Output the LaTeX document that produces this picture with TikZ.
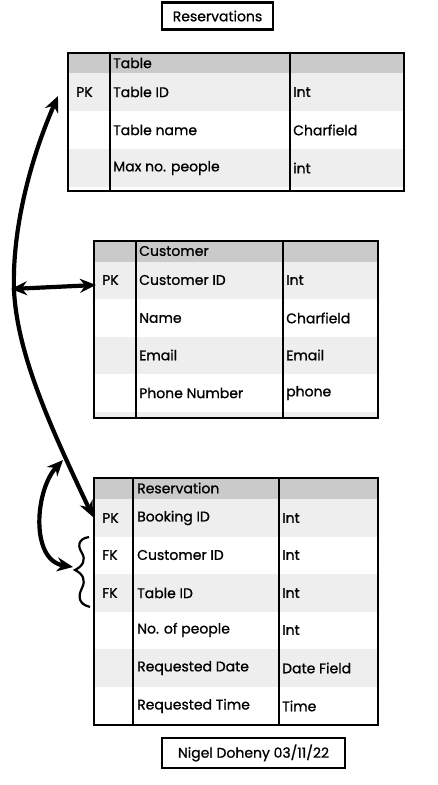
\documentclass[tikz,border=0pt]{standalone}
\usepackage{fontspec}
\setmainfont{Poppins}[FakeBold=0.9]
\usetikzlibrary{arrows.meta}
\definecolor{hdrgray}{HTML}{CACACA}
\definecolor{rowgray}{HTML}{EEEEEE}
\begin{document}
\begin{tikzpicture}[x=1pt,y=-1pt,
  font=\fontsize{14}{16}\selectfont,
  tbl/.style={draw=black,line width=2.8pt},
  hdr/.style={fill=hdrgray},
  rowg/.style={fill=rowgray},
  cell/.style={anchor=west,inner sep=0pt,text=black},
  lbox/.style={draw=black,line width=2.5pt,minimum width=#1,minimum height=27pt,inner sep=2pt},
  rel/.style={line width=4.2pt,{Stealth[length=16pt,width=14pt]}-{Stealth[length=16pt,width=14pt]}},
  brc/.style={line width=2.2pt}]
\useasboundingbox (0,0) rectangle (437,785);
\fill[white] (0,0) rectangle (437,785);

% Title
\node[lbox=111pt] (title) at (217.5,16) {Reservations};

% ---------- Table 1 ----------
\fill[hdr] (68,53) rectangle (404,73);
\fill[rowg] (68,73) rectangle (404,111);
\fill[rowg] (68,149) rectangle (404,187);
\draw[tbl] (68,53) rectangle (404,191);
\draw[tbl] (110,53) -- (110,191);
\draw[tbl] (290,53) -- (290,191);
\node[cell] (t1h) at (113,63) {Table};
\node[cell] (t1k1) at (76,92) {PK};
\node[cell] (t1n1) at (113,92) {Table ID};
\node[cell] (t1t1) at (293,92) {Int};
\node[cell] (t1n2) at (113,130) {Table name};
\node[cell] (t1t2) at (293,130) {Charfield};
\node[cell] (t1n3) at (113,168) {Max no. people};
\node[cell] (t1t3) at (293,168) {int};

% ---------- Table 2 ----------
\fill[hdr] (94,241) rectangle (378,262);
\fill[rowg] (94,262) rectangle (378,299);
\fill[rowg] (94,337) rectangle (378,374);
\fill[rowg] (94,412) rectangle (378,418);
\draw[tbl] (94,241) rectangle (378,418);
\draw[tbl] (136,241) -- (136,418);
\draw[tbl] (283,241) -- (283,418);
\node[cell] (t2h) at (139,251) {Customer};
\node[cell] (t2k1) at (102,280) {PK};
\node[cell] (t2n1) at (139,280) {Customer ID};
\node[cell] (t2t1) at (286,280) {Int};
\node[cell] (t2n2) at (139,318) {Name};
\node[cell] (t2t2) at (286,318) {Charfield};
\node[cell] (t2n3) at (139,355) {Email};
\node[cell] (t2t3) at (286,355) {Email};
\node[cell] (t2n4) at (139,393) {Phone Number};
\node[cell] (t2t4) at (286,393) {phone};

% ---------- Table 3 ----------
\fill[hdr] (94,478) rectangle (378,499);
\fill[rowg] (94,499) rectangle (378,537);
\fill[rowg] (94,574) rectangle (378,612);
\fill[rowg] (94,649) rectangle (378,687);
\draw[tbl] (94,478) rectangle (378,725);
\draw[tbl] (133,478) -- (133,725);
\draw[tbl] (279,478) -- (279,725);
\node[cell] (t3h) at (137,488) {Reservation};
\node[cell] (t3k1) at (102,518) {PK};
\node[cell] (t3n1) at (137,518) {Booking ID};
\node[cell] (t3t1) at (282,518) {Int};
\node[cell] (t3k2) at (102,555) {FK};
\node[cell] (t3n2) at (137,555) {Customer ID};
\node[cell] (t3t2) at (282,555) {Int};
\node[cell] (t3k3) at (102,593) {FK};
\node[cell] (t3n3) at (137,593) {Table ID};
\node[cell] (t3t3) at (282,593) {Int};
\node[cell] (t3n4) at (137,630) {No. of people};
\node[cell] (t3t4) at (282,630) {Int};
\node[cell] (t3n5) at (137,668) {Requested Date};
\node[cell] (t3t5) at (282,668) {Date Field};
\node[cell] (t3n6) at (137,706) {Requested Time};
\node[cell] (t3t6) at (282,706) {Time};

% Footer
\node[lbox=183pt,minimum height=30pt] (foot) at (253.5,753) {Nigel Doheny 03/11/22};

% ---------- Relationship arrows ----------
\coordinate (tabIn) at (58,96);
\coordinate (bookIn) at (93,517);
\coordinate (mid) at (11,289);
\coordinate (custIn) at (96,285);
\coordinate (braceIn) at (73,567);
\coordinate (upTip) at (63,460);

\draw[rel] (tabIn) .. controls (30,160) and (12,230) .. (14,290)
  .. controls (17,355) and (52,430) .. (bookIn);
\draw[rel] (mid) -- (custIn);
\draw[rel] (braceIn) .. controls (30,560) and (35,490) .. (upTip);

% Brace
\draw[brc] (89,537) .. controls (77,539) and (78,547) .. (82,553)
  .. controls (86,560) and (83,566) .. (75,570)
  .. controls (83,574) and (86,580) .. (82,588)
  .. controls (78,596) and (78,604) .. (90,607);
\end{tikzpicture}
\end{document}
